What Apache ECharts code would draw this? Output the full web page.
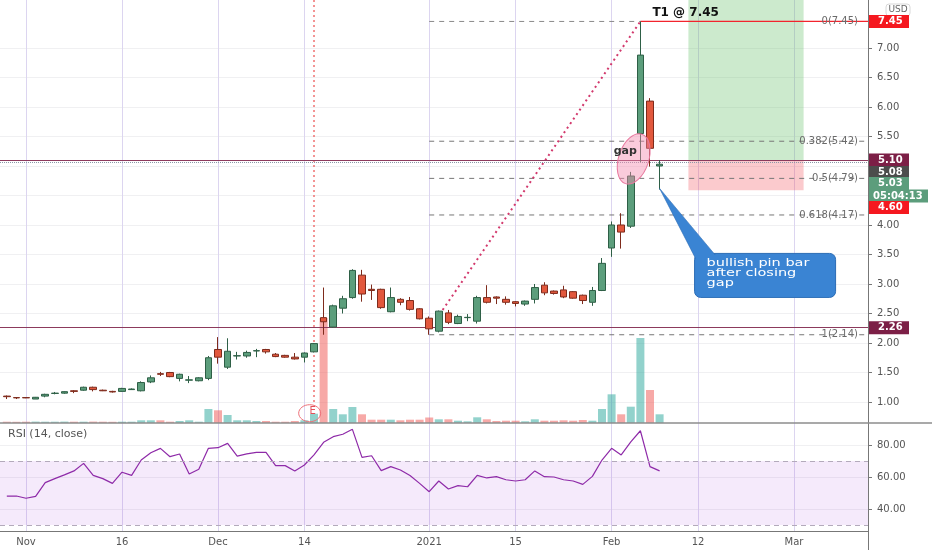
<!DOCTYPE html>
<html><head><meta charset="utf-8">
<script src="https://cdn.jsdelivr.net/npm/echarts@6/dist/echarts.min.js"></script>
<style>html,body{margin:0;padding:0;background:#fff}#c{width:932px;height:550px}</style>
</head><body><div id="c"></div>
<script>
// ---------- data ----------
const dates = ['2020-10-29','2020-10-30','2020-11-02','2020-11-03','2020-11-04','2020-11-05','2020-11-06','2020-11-09','2020-11-10','2020-11-11',
'2020-11-12','2020-11-13','2020-11-16','2020-11-17','2020-11-18','2020-11-19','2020-11-20','2020-11-23','2020-11-24','2020-11-25',
'2020-11-27','2020-11-30','2020-12-01','2020-12-02','2020-12-03','2020-12-04','2020-12-07','2020-12-08','2020-12-09','2020-12-10',
'2020-12-11','2020-12-14','2020-12-15','2020-12-16','2020-12-17','2020-12-18','2020-12-21','2020-12-22','2020-12-23','2020-12-24',
'2020-12-28','2020-12-29','2020-12-30','2020-12-31','2021-01-04','2021-01-05','2021-01-06','2021-01-07','2021-01-08','2021-01-11',
'2021-01-12','2021-01-13','2021-01-14','2021-01-15','2021-01-19','2021-01-20','2021-01-21','2021-01-22','2021-01-25','2021-01-26',
'2021-01-27','2021-01-28','2021-01-29','2021-02-01','2021-02-02','2021-02-03','2021-02-04','2021-02-05','2021-02-08','2021-02-09',
'2021-02-10','2021-02-11','2021-02-12','2021-02-16','2021-02-17','2021-02-18','2021-02-19','2021-02-22','2021-02-23','2021-02-24',
'2021-02-25','2021-02-26','2021-03-01','2021-03-02','2021-03-03','2021-03-04','2021-03-05','2021-03-08','2021-03-09','2021-03-10'];

// [open, close, low, high]
const ohlc = [
[1.10,1.09,1.05,1.11],[1.075,1.07,1.05,1.08],[1.075,1.07,1.065,1.08],[1.05,1.08,1.05,1.085],[1.10,1.13,1.08,1.14],
[1.145,1.15,1.13,1.17],[1.15,1.175,1.14,1.18],[1.19,1.18,1.15,1.20],[1.20,1.25,1.19,1.26],[1.25,1.21,1.18,1.26],
[1.20,1.19,1.185,1.21],[1.18,1.17,1.16,1.19],[1.18,1.23,1.175,1.24],[1.21,1.22,1.21,1.23],[1.19,1.33,1.18,1.35],
[1.34,1.41,1.32,1.45],[1.48,1.47,1.44,1.51],[1.50,1.43,1.42,1.51],[1.40,1.47,1.35,1.48],[1.37,1.375,1.32,1.44],
[1.36,1.41,1.35,1.42],[1.40,1.75,1.37,1.78],[1.89,1.76,1.65,2.10],[1.59,1.86,1.56,2.08],[1.78,1.785,1.72,1.85],
[1.78,1.84,1.75,1.87],[1.865,1.87,1.76,1.90],[1.89,1.85,1.82,1.90],[1.81,1.77,1.76,1.83],[1.79,1.76,1.75,1.80],
[1.76,1.73,1.72,1.83],[1.76,1.83,1.67,1.84],[1.85,1.99,1.84,2.00],[2.43,2.36,2.14,2.94],[2.27,2.63,2.26,2.65],
[2.59,2.75,2.50,2.80],[2.77,3.23,2.75,3.25],[3.15,2.83,2.70,3.24],[2.91,2.89,2.73,2.99],[2.91,2.60,2.58,2.92],
[2.53,2.77,2.52,2.94],[2.74,2.69,2.64,2.76],[2.72,2.57,2.55,2.78],[2.58,2.41,2.40,2.59],[2.42,2.24,2.14,2.45],
[2.20,2.54,2.18,2.55],[2.51,2.35,2.32,2.56],[2.33,2.45,2.32,2.48],[2.43,2.435,2.37,2.49],[2.37,2.77,2.33,2.80],
[2.77,2.69,2.67,2.98],[2.78,2.76,2.66,2.79],[2.74,2.69,2.65,2.79],[2.70,2.67,2.62,2.71],[2.66,2.71,2.63,2.72],
[2.74,2.94,2.67,3.00],[2.98,2.85,2.81,3.03],[2.88,2.84,2.82,2.89],[2.90,2.78,2.76,2.97],[2.87,2.76,2.75,2.88],
[2.81,2.72,2.66,2.82],[2.69,2.89,2.63,2.95],[2.89,3.35,2.88,3.44],[3.61,4.00,3.46,4.06],[4.00,3.88,3.60,4.20],
[3.98,4.83,3.95,4.90],[5.55,6.88,5.07,7.45],[6.10,5.30,4.99,6.15],[5.00,5.03,4.60,5.10]
];

const volume = [1.3,1.2,1.3,1.4,1.3,1.3,1.4,1.3,1.3,1.4,
1.3,1.2,1.3,1.3,2.7,2.7,2.7,1.3,2.0,2.7,
1.3,14,12.7,8,2.7,2.7,2.0,2.0,1.3,1.3,
2.0,2.7,9.3,105,14,8.7,16,8.7,3.3,3.3,
3.3,2.7,3.3,3.3,5.5,3.7,3.7,2.3,1.7,5.7,
3.7,2.0,2.3,2.3,1.7,3.7,2.3,2.3,2.7,2.3,
3.0,2.3,14,28.7,8.7,16.3,85,33,8.7];

const rsi = [48.1,48.1,46.7,47.9,56.5,59.0,61.3,63.8,68.5,61.0,
59.0,56.0,63.0,61.0,70.6,75.2,77.9,72.7,74.4,61.9,
64.8,77.9,78.3,81.0,73.1,74.4,75.4,75.4,67.1,67.1,
63.8,67.5,73.8,81.7,85.2,86.7,89.8,72.3,73.3,64.0,
66.5,64.4,60.9,56.0,50.8,57.5,52.5,54.6,53.9,61.0,
59.4,60.2,58.3,57.5,58.3,63.8,60.2,60.0,58.3,57.5,
55.4,60.4,70.6,77.9,73.8,82.0,88.9,66.5,63.8];

const xTickDates = ['2020-11-02','2020-11-16','2020-12-01','2020-12-14','2021-01-04','2021-01-15','2021-02-01','2021-02-12','2021-03-01'];
const xTickLabels = ['Nov','16','Dec','14','2021','15','Feb','12','Mar'];
const priceTicks = [1,1.5,2,2.5,3,3.5,4,4.5,5,5.5,6,6.5,7];
const priceLabels = [1,1.5,2,2.5,3,3.5,4,5.5,6,6.5,7];
const rsiTicks = [40,60,80];
const fibRatios = ['0','0.382','0.5','0.618','1'];
const fibPrices = [7.45,5.42,4.79,4.17,2.14];
const fibStartDate = '2021-01-04';
const targetDate = '2021-02-04';
const trendStart = [45.4, 2.56];     // [trading-day index, price]
const earningsDate = '2020-12-15';
const hLines = [5.10, 2.26];
const lastPriceLine = 5.06;
const positionBox = {from:'2021-02-11', to:'2021-03-02', entry:5.10, stop:4.59};

// ---------- chart ----------
const X_MIN=-0.71, X_MAX=89.71, P_MIN=0.644, P_MAX=7.8136, R_MIN=26.25, R_MAX=93.75;
const idx = d => dates.indexOf(d);
const xTickIdx = xTickDates.map(idx);
const FONT = 'DejaVu Sans';
const chart = echarts.init(document.getElementById('c'));

const candleData = ohlc.map((d,i)=>[i,d[0],d[1],d[2],d[3]]);
const volData = volume.map((v,i)=>({value:[i,v],itemStyle:{color: ohlc[i][1]>=ohlc[i][0] ? 'rgba(38,166,154,0.5)' : 'rgba(239,83,80,0.5)'}}));
const rsiData = rsi.map((v,i)=>[i,v]);
const fs = idx(fibStartDate), tg = idx(targetDate);

function lineSeries(data, style, z){
  return {type:'line', xAxisIndex:0, yAxisIndex:0, data, symbol:'none', silent:true, z:z||3, lineStyle:style};
}
const vgrid = {show:true, lineStyle:{color:'#dcd5f0', width:1}};
const series = [
  {type:'candlestick', xAxisIndex:0, yAxisIndex:0, data:candleData, encode:{x:0,y:[1,2,3,4]}, barWidth:7, z:5,
   itemStyle:{color:'#5c9e7c', color0:'#e2583d', borderColor:'#2e5f46', borderColor0:'#7e2b1c', borderColorDoji:'#444', borderWidth:1},
   markArea:{silent:true, data:[
     [{coord:[idx(positionBox.from), P_MAX], itemStyle:{color:'rgba(96,190,100,0.32)'}}, {coord:[idx(positionBox.to), positionBox.entry]}],
     [{coord:[idx(positionBox.from), positionBox.entry], itemStyle:{color:'rgba(242,80,90,0.3)'}}, {coord:[idx(positionBox.to), positionBox.stop]}]
   ]},
   markLine:{silent:true, symbol:'none', label:{show:false}, data:[
     ...hLines.map(v=>({yAxis:v, lineStyle:{color:'#8c3a5c', width:1, type:'solid'}})),
     {yAxis:lastPriceLine, lineStyle:{color:'#8a98a8', width:1, type:'dotted'}}
   ]}
  },
  lineSeries([[fs,fibPrices[0]],[tg,fibPrices[0]]], {color:'#8a8a8a', width:1, type:[5,5]}),
  lineSeries([[tg,fibPrices[0]],[X_MAX,fibPrices[0]]], {color:'#f2242d', width:1.3, type:'solid'}),
  ...fibPrices.slice(1).map(p=>lineSeries([[fs,p],[X_MAX,p]], {color:'#777', width:1, type:[5,5]})),
  lineSeries([trendStart,[tg,fibPrices[0]]], {color:'#d2386c', width:2, type:[2,3.5]}),
  lineSeries([[idx(earningsDate),P_MAX],[idx(earningsDate),1.0]], {color:'#f07070', width:1.5, type:[2,3]}),
  {type:'bar', xAxisIndex:1, yAxisIndex:1, data:volData, barWidth:8, z:1, silent:true},
  {type:'line', xAxisIndex:2, yAxisIndex:2, data:rsiData, symbol:'none', silent:true, lineStyle:{color:'#8e2aa8', width:1.2},
   markArea:{silent:true, itemStyle:{color:'rgba(160,60,220,0.11)'}, data:[[{yAxis:30},{yAxis:70}]]},
   markLine:{silent:true, symbol:'none', label:{show:false}, lineStyle:{color:'#b3aabb', type:[5,4], width:1}, data:[{yAxis:30},{yAxis:70}]}
  }
];

chart.setOption({
  animation:false,
  backgroundColor:'#ffffff',
  grid:[
    {left:0,right:64,top:0,height:423},
    {left:0,right:64,top:0,height:423},
    {left:0,right:64,top:423,height:108}
  ],
  xAxis:[
    {gridIndex:0,type:'value',min:X_MIN,max:X_MAX,axisLine:{show:false},axisLabel:{show:false},axisTick:{show:false,customValues:xTickIdx},splitLine:vgrid},
    {gridIndex:1,type:'value',min:X_MIN,max:X_MAX,show:false},
    {gridIndex:2,type:'value',min:X_MIN,max:X_MAX,axisLine:{show:true,onZero:false,lineStyle:{color:'#777',width:1}},
     axisTick:{show:false,customValues:xTickIdx},
     axisLabel:{customValues:xTickIdx,formatter:v=>xTickLabels[xTickIdx.indexOf(Math.round(v))]||'',color:'#555',fontSize:10,fontFamily:FONT,margin:6},
     splitLine:vgrid}
  ],
  yAxis:[
    {gridIndex:0,type:'value',position:'right',min:P_MIN,max:P_MAX,
     axisLine:{show:true,onZero:false,lineStyle:{color:'#777'}},
     axisTick:{show:true,length:4,customValues:priceTicks,lineStyle:{color:'#777'}},
     axisLabel:{customValues:priceLabels,formatter:v=>v.toFixed(2),color:'#555',fontSize:10,fontFamily:FONT,margin:9},
     splitLine:{show:true,lineStyle:{color:'#f0f0f2'}}},
    {gridIndex:1,type:'value',min:0,max:423,show:false},
    {gridIndex:2,type:'value',position:'right',min:R_MIN,max:R_MAX,
     axisLine:{show:true,onZero:false,lineStyle:{color:'#777'}},
     axisTick:{show:true,length:4,customValues:rsiTicks,lineStyle:{color:'#777'}},
     axisLabel:{customValues:rsiTicks,formatter:v=>v.toFixed(2),color:'#555',fontSize:10,fontFamily:FONT,margin:9},
     splitLine:{show:true,lineStyle:{color:'#f0f0f2'}}}
  ],
  series
});

// ---------- overlays (positioned through the axes) ----------
function overlay(){
  const P = (x,y)=>chart.convertToPixel({gridIndex:0},[x,y]);
  const g = [];
  const axisX = P(X_MAX,1)[0];
  // panel separator and axis continuation
  g.push({type:'line',silent:true,z:60,shape:{x1:0,y1:423,x2:932,y2:423},style:{stroke:'#8d8d8d',lineWidth:1.5}});
  g.push({type:'line',silent:true,z:60,shape:{x1:axisX+0.5,y1:531,x2:axisX+0.5,y2:550},style:{stroke:'#777',lineWidth:1}});
  // USD
  g.push({type:'rect',silent:true,z:60,shape:{x:axisX+18,y:4,width:24,height:12,r:3},style:{fill:'#fff',stroke:'#d8d8d8',lineWidth:1}});
  g.push({type:'text',silent:true,z:61,x:axisX+30,y:10,style:{text:'USD',fill:'#666',font:'9px '+FONT,align:'center',verticalAlign:'middle'}});
  // price boxes
  const y510 = P(0,5.10)[1];
  const boxes = [
    {y:P(0,7.45)[1],t:'7.45',bg:'#f5181f'},
    {y:y510,t:'5.10',bg:'#7c1f46'},
    {y:y510+12.5,t:'5.08',bg:'#4c4c4c'},
    {y:y510+23.5,t:'5.03',bg:'#5c9d7c'},
    {y:y510+36,t:'05:04:13',bg:'#5c9d7c',w:59,tx:5},
    {y:y510+47.5,t:'4.60',bg:'#f5181f'},
    {y:P(0,2.26)[1],t:'2.26',bg:'#7c1f46'}
  ];
  boxes.forEach(b=>{
    g.push({type:'rect',silent:true,z:62,shape:{x:axisX+1,y:b.y-6.5,width:b.w||40,height:13},style:{fill:b.bg}});
    g.push({type:'text',silent:true,z:63,x:axisX+(b.tx||10),y:b.y,style:{text:b.t,fill:'#fff',font:'bold 10px '+FONT,verticalAlign:'middle'}});
  });
  // fib labels
  fibPrices.forEach((p,i)=>{
    const yy = P(0,p)[1];
    g.push({type:'text',silent:true,z:20,x:axisX-10,y:yy,style:{text:fibRatios[i]+'('+p.toFixed(2)+')',fill:'#6a6a6a',font:'10px '+FONT,align:'right',verticalAlign:'middle'}});
  });
  // T1 label
  const t1 = P(tg,fibPrices[0]);
  g.push({type:'text',silent:true,z:20,x:t1[0]+12,y:t1[1]-9,style:{text:'T1 @ 7.45',fill:'#111',font:'bold 12px '+FONT,verticalAlign:'middle'}});
  // gap ellipse
  const gp = P(65.3,5.12);
  g.push({type:'ellipse',silent:true,z:20,x:gp[0],y:gp[1],rotation:-0.32,shape:{cx:0,cy:0,rx:15,ry:26},style:{fill:'rgba(244,140,175,0.45)',stroke:'#e8789e',lineWidth:1}});
  g.push({type:'text',silent:true,z:21,x:gp[0]-20,y:gp[1]-8,style:{text:'gap',fill:'#333',font:'bold 11px '+FONT,verticalAlign:'middle'}});
  // earnings marker
  const ep = P(31.55,0.81);
  g.push({type:'ellipse',silent:true,z:20,shape:{cx:ep[0],cy:ep[1],rx:11,ry:8.5},style:{fill:'none',stroke:'#ee7078',lineWidth:1}});
  g.push({type:'text',silent:true,z:21,x:ep[0]+3,y:ep[1]-2,style:{text:'E',fill:'#e4505a',font:'10px '+FONT,align:'center',verticalAlign:'middle'}});
  // callout
  const tip = P(68,4.62);
  g.push({type:'rect',silent:true,z:30,shape:{x:tip[0]+35,y:tip[1]+65,width:141,height:44,r:6},style:{fill:'#3a84d3',stroke:'#2b6cb5',lineWidth:1}});
  g.push({type:'polygon',silent:true,z:31,shape:{points:[[tip[0],tip[1]],[tip[0]+37,tip[1]+72],[tip[0]+56,tip[1]+67]]},style:{fill:'#3a84d3',stroke:'#2b6cb5',lineWidth:0.6}});
  g.push({type:'rect',silent:true,z:32,shape:{x:tip[0]+36,y:tip[1]+66.5,width:139,height:41.5,r:5},style:{fill:'#3a84d3'}});
  g.push({type:'text',silent:true,z:33,x:tip[0]+47,y:tip[1]+70,scaleX:1.38,style:{text:'bullish pin bar\nafter closing\ngap',fill:'#fff',font:'10.5px '+FONT,lineHeight:10,verticalAlign:'top'}});
  // RSI title
  g.push({type:'text',silent:true,z:20,x:8,y:434,style:{text:'RSI (14, close)',fill:'#555',font:'11px '+FONT,verticalAlign:'middle'}});
  chart.setOption({graphic:g});
}
overlay();
</script>
</body></html>
